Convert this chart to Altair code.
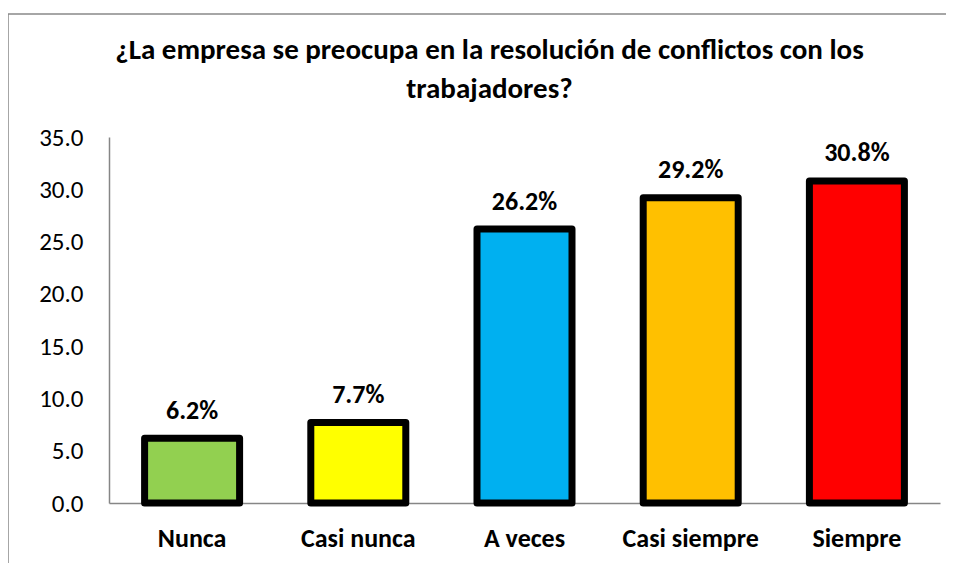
import altair as alt
import pandas as pd

categories = ["Nunca", "Casi nunca", "A veces", "Casi siempre", "Siempre"]
values = [6.2, 7.7, 26.2, 29.2, 30.8]
colors = ["#92D050", "#FFFF00", "#00B0F0", "#FFC000", "#FF0000"]
y_ticks = [0, 5, 10, 15, 20, 25, 30, 35]
title_lines = ["¿La empresa se preocupa en la resolución de conflictos con los", "trabajadores?"]

df = pd.DataFrame({"cat": categories, "val": values, "color": colors})
one = pd.DataFrame({"k": [0]})

FONT = "Carlito, Calibri, Lato, sans-serif"

x = alt.X("cat:N", sort=categories, title=None,
          scale=alt.Scale(paddingInner=0.43, paddingOuter=0.215),
          axis=alt.Axis(labelAngle=0, labelFontWeight="bold", labelFontSize=26, labelFont=FONT,
                        labelColor="black", ticks=False, domainColor="#868686", domainWidth=1.5,
                        labelPadding=22))
y = alt.Y("val:Q", title=None,
          scale=alt.Scale(domain=[0, 35], nice=False),
          axis=alt.Axis(values=y_ticks, format=".1f", labelFontSize=25, labelFont=FONT,
                        labelColor="black", ticks=False, grid=False, domainColor="#868686",
                        domainWidth=1.5, labelPadding=26))

bars = alt.Chart(df).mark_bar(stroke="black", strokeWidth=7, strokeJoin="round", size=95).encode(
    x=x, y=y, fill=alt.Fill("color:N", scale=None)
)

labels = alt.Chart(df).transform_calculate(
    lab="format(datum.val, '.1f') + '%'"
).mark_text(font=FONT, fontSize=26, fontWeight="bold", baseline="alphabetic", dy=-19.5, color="black").encode(
    x=alt.X("cat:N", sort=categories), y="val:Q", text="lab:N"
)

frame = alt.Chart(one).mark_rect(fill="transparent", stroke="#898989", strokeWidth=1.5).encode(
    x=alt.value(-101), x2=alt.value(1200), y=alt.value(-123), y2=alt.value(700)
)

chart = alt.layer(frame, bars, labels).properties(
    width=831, height=366,
    title=alt.Title(title_lines, font=FONT, fontSize=29, fontWeight="bold", color="black",
                    anchor="middle", dx=-35, offset=-91, lineHeight=39),
    autosize=alt.AutoSizeParams(type="none"),
    padding={"left": 101, "top": 129, "right": 6, "bottom": 60},
).configure_view(stroke=None)

chart.save("out.html", embed_options={"renderer": "svg", "actions": False})
